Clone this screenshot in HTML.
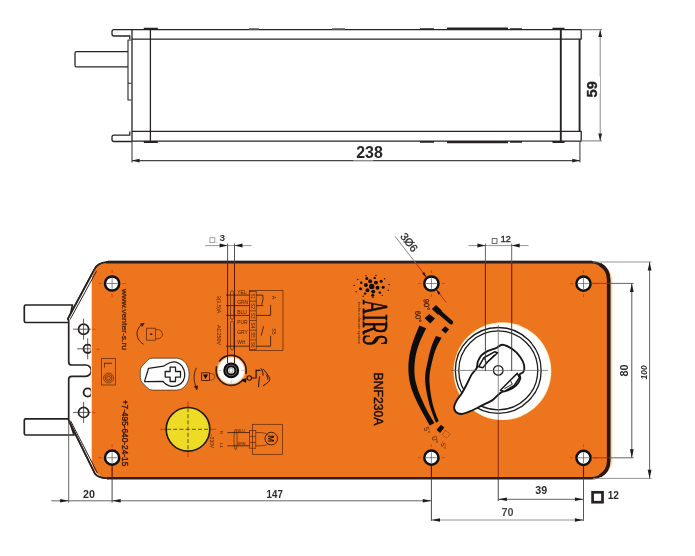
<!DOCTYPE html>
<html lang="en"><head><meta charset="utf-8"><title>BNF230A dimensions</title>
<style>
html,body{margin:0;padding:0;background:#fff;}
body{width:695px;height:556px;overflow:hidden;}
svg{display:block;}
text{font-family:"Liberation Sans",sans-serif;}
</style></head><body>
<svg width="695" height="556" viewBox="0 0 695 556">
<rect width="695" height="556" fill="#fff"/>
<g id="drawing" style="filter:blur(0.45px)">
<g id="topview" fill="none" stroke="#262322" stroke-width="1.3" stroke-linejoin="round">
<path d="M132 29.7H581.2V39.1H132"/>
<path d="M132 131.3H581.2V141.2H132"/>
<path d="M132 29.7V141.2"/>
<path d="M150.4 29.7V141.2"/>
<path d="M560.8 29.7V141.2" stroke-width="1.9"/>
<path d="M579.6 39.1V131.3" stroke-width="1.9"/>
<path d="M132 29.7H114q-2 0-2 2v2.3q0 2 2 2H129.8v3"/>
<path d="M132 141.5H114q-2 0-2-2v-2.4q0-2 2-2H129.8v-3.6"/>
<path d="M128 51.7H76.5q-1.5 0-1.5 1.5v12.2q0 1.500 1.5 1.5H128"/>
<path d="M131.4 40H128V100H131.4M128 83.3H131.4" stroke-width="1.1"/>
<path d="M143.8 28.8H157.8M143.8 142H157.8M552.5 28.8H564.5M552.5 142H564.5" stroke-width="2"/>
<path d="M420 29H434M510 29H522M420 141.9H434M510 141.9H522" stroke-width="1.6"/>
<path d="M249 29.1H259M332 29.1H345" stroke-width="1.7" stroke="#555"/>
<path d="M447 28.7H508M447 142.1H508" stroke-width="2.4"/>
</g>
<g id="topdims" fill="none" stroke="#444" stroke-width="1.1">
<path d="M132 141V162.6M579.9 141V162.6"/>
<path d="M132 160.6H579.9" stroke-width="1.2"/>
<path d="M581 29.7H602M581 140.9H602" stroke="#777" stroke-width="1"/>
<path d="M600.2 29.7V140.9" stroke="#8a8a8a" stroke-width="1"/>
</g>
<g fill="#222">
<path d="M132 160.6l7.6-1.9v3.8zM579.9 160.6l-7.6-1.9v3.8z"/>
<path d="M600.2 29.7l-1.9 7.4h3.8zM600.2 140.9l-1.9-7.4h3.8z"/>
</g>
<rect x="353.2" y="157.5" width="20" height="2.9" fill="#fff"/>
<text x="369.5" y="158.1" text-anchor="middle" font-size="15.9" font-weight="700" fill="#262626">238</text>
<rect x="597.6" y="76.5" width="2.4" height="17" fill="#fff"/>
<text transform="translate(597.3 89.3) rotate(-90)" text-anchor="middle" font-size="14.6" font-weight="700" fill="#222" stroke="#222" stroke-width="0.35">59</text>

<g id="plate" fill="#fff" stroke="#262322" stroke-width="1.7" stroke-linejoin="round">
<path d="M72.5 305H25.8q-1.5 0-1.5 1.5v14.5q0 1.5 1.5 1.5H68.7z"/>
<path d="M68.7 418.8H25.8q-1.5 0-1.5 1.5v13.2q0 1.5 1.5 1.5H74z"/>
<path d="M108 262.1C100 262.4 96.5 265 94.5 269.5L67.8 318.8L68.7 320.5V362.2Q68.7 365 71.8 365H85.6A5.6 5.6 0 0 1 85.6 376.3H71.8Q68.7 376.3 68.7 379.4V420.3L95 473.8C97.5 477.2 102 478.2 108 478.3Z"/>
</g>
<circle cx="83.6" cy="329.2" r="5.1" fill="#fff" stroke="#262322" stroke-width="1.7"/>
<path d="M73.1 329.2h21M83.6 318.7v21" stroke="#333" stroke-width="0.8" fill="none"/>
<circle cx="87.7" cy="348.8" r="4.2" fill="#fff" stroke="#262322" stroke-width="1.8"/>
<path d="M77.2 348.8h21M87.7 338.3v21" stroke="#333" stroke-width="0.8" fill="none"/>
<circle cx="87.7" cy="392.5" r="4.1" fill="#fff" stroke="#262322" stroke-width="1.9"/>
<circle cx="83.6" cy="412.4" r="5.1" fill="#fff" stroke="#262322" stroke-width="1.7"/>
<path d="M73.1 412.4h21M83.6 401.9v21" stroke="#333" stroke-width="0.8" fill="none"/>
<path d="M596 263.6A17.6 17.6 0 0 1 611 279.8V460.6A17.6 17.6 0 0 1 596 477" fill="none" stroke="#fbd09a" stroke-width="2.6"/>
<path id="body" d="M110 262.1H591.2A17.6 17.6 0 0 1 608.8 279.7V460.7A17.6 17.6 0 0 1 591.2 478.3H110C99 478 91.8 471 91.8 460V281C91.8 270 99 262.5 110 262.1Z" fill="#ED751D"/>
<path d="M91.4 283V458" stroke="#fbd9a6" stroke-width="1.1" fill="none"/>
<path d="M108 261H592" fill="none" stroke="#6a6664" stroke-width="1.2"/>
<path d="M106 262.3H591.2A17.6 17.6 0 0 1 608.8 279.7V460.7A17.6 17.6 0 0 1 591.2 478.3H107" fill="none" stroke="#2a201e" stroke-width="2.6"/>
<path d="M600 264.4A17.6 17.6 0 0 1 608.7 279.7V460.7A17.6 17.6 0 0 1 600 476" fill="none" stroke="#2a1714" stroke-width="3.6"/>
<path d="M96.5 349.2h3M92.5 329.3h3M92.5 412.6h3" stroke="#d8321c" stroke-width="0.9"/>
<path d="M107 262.1C99.5 262.4 96.3 265 94.3 269.5L67.8 318.8" fill="none" stroke="#2b2220" stroke-width="1.6" stroke-linecap="round"/>
<path d="M96.6 271L70 319.6" fill="none" stroke="#2b2220" stroke-width="1"/>
<path d="M68.7 420.3L95 473.8C97.5 477.2 102 478.2 108 478.3" fill="none" stroke="#2b2220" stroke-width="1.6" stroke-linecap="round"/>
<path d="M70.6 420.8L97.4 473" fill="none" stroke="#2b2220" stroke-width="1"/>

<g id="dial">
<circle cx="502.4" cy="371.2" r="48.9" fill="#fbe9b0"/>
<circle cx="502.4" cy="371.2" r="48.2" fill="#fff"/>
<circle cx="498.25" cy="370.4" r="42.9" fill="none" stroke="#1c1c1c" stroke-width="1.3"/>
<circle cx="498.25" cy="370.4" r="39.5" fill="none" stroke="#1c1c1c" stroke-width="1.3"/>
</g>
<path d="M502.4 344.69C505.11 344.86 509.33 347 512.3 349.05C515.27 351.09 518.24 354.23 520.22 356.96C522.2 359.7 523.65 363 524.18 365.48C524.7 367.95 524.14 370.32 523.38 371.81C522.63 373.29 520.15 373.23 519.62 374.38C519.1 375.54 520.78 376.92 520.22 378.74C519.66 380.55 518.24 383.36 516.26 385.27C514.28 387.18 510.91 389 508.34 390.22C505.77 391.44 503.46 390.94 500.82 392.59C498.18 394.24 495.54 398.04 492.51 400.11C489.47 402.19 486.24 403.25 482.61 405.06C478.98 406.88 474.2 409.52 470.73 411C467.27 412.49 464.3 413.81 461.83 413.97C459.35 414.14 457.17 413.15 455.89 411.99C454.6 410.84 453.94 409.02 454.11 407.04C454.27 405.06 455.59 402.42 456.88 400.11C458.16 397.81 460.18 395.83 461.83 393.19C463.47 390.55 465.12 387.41 466.77 384.28C468.42 381.15 470.07 377.09 471.72 374.38C473.37 371.68 475.65 370.19 476.67 368.05C477.69 365.9 477.03 363.66 477.86 361.52C478.68 359.37 480 356.93 481.62 355.18C483.24 353.43 485.15 352.21 487.56 351.03C489.97 349.84 493.59 349.11 496.07 348.06C498.54 347 499.7 344.53 502.4 344.69Z" fill="#fff" stroke="#161616" stroke-width="1.9" stroke-linejoin="round"/>
<path d="M478.65 366.86L483.8 357.76L494.49 351.82L497.65 352.81L488.15 361.32L483 367.65Z" fill="#fff" stroke="#161616" stroke-width="1.5" stroke-linejoin="round"/>
<path d="M500.42 390.22L510.32 380.32L517.25 373.39L519.43 377.55L514.28 385.27L504.38 391.41Z" fill="#fff" stroke="#161616" stroke-width="1.5" stroke-linejoin="round"/>
<path d="M483.8 357.76L486.57 362.51L494.49 354.59" fill="none" stroke="#161616" stroke-width="0.9"/>
<path d="M510.32 380.32L512.3 384.28L504.38 388.63" fill="none" stroke="#161616" stroke-width="0.9"/>
<circle cx="498.25" cy="370.4" r="4.8" fill="#fff" stroke="#161616" stroke-width="1.2"/>
<g fill="none" stroke-width="0.9">
<path d="M451 370.4H548" stroke="#666" stroke-width="0.75"/>
<path d="M485.4 263V323" stroke="#7a1a10" stroke-width="1.1"/><path d="M485.4 323V371" stroke="#333"/>
<path d="M511.7 263V323" stroke="#7a1a10" stroke-width="1.1"/><path d="M511.7 323V371" stroke="#333"/>
<path d="M498.25 325V420" stroke="#666" stroke-width="0.75"/>
<path d="M498.25 420V478" stroke="#7a1c10"/>
<path d="M498.25 478V501" stroke="#333"/>
</g>
<path d="M419.4 325.4C418.25 328.33 414.26 337.37 412.5 343C410.74 348.63 409.48 353.87 408.85 359.2C408.22 364.53 408.29 370.2 408.7 375C409.11 379.8 410.05 383.8 411.3 388C412.55 392.2 414.38 396.2 416.2 400.2C418.02 404.2 419.93 407.77 422.2 412C424.47 416.23 428.53 423.33 429.8 425.6L434.4 423.1C433.27 421.17 429.63 415.32 427.6 411.5C425.57 407.68 423.9 404.12 422.2 400.2C420.5 396.28 418.67 392.2 417.4 388C416.13 383.8 414.98 379.8 414.6 375C414.22 370.2 414.37 364.37 415.1 359.2C415.83 354.03 417.15 349.17 419 344C420.85 338.83 425 330.83 426.2 328.2Z" fill="#0d0d0d"/>
<path d="M435.9 336C435.13 337.83 432.58 343.13 431.3 347C430.02 350.87 429.22 354.53 428.2 359.2C427.18 363.87 425.58 370.2 425.2 375C424.82 379.8 425.38 383.8 425.9 388C426.42 392.2 427.37 396.37 428.3 400.2C429.23 404.03 430.22 407.25 431.5 411C432.78 414.75 435.25 420.75 436 422.7L438.7 421C438.02 419.25 435.73 413.97 434.6 410.5C433.47 407.03 432.67 403.95 431.9 400.2C431.13 396.45 430.38 392.2 430 388C429.62 383.8 429.15 379.8 429.6 375C430.05 370.2 431.58 363.7 432.7 359.2C433.82 354.7 434.82 351.57 436.3 348C437.78 344.43 440.72 339.5 441.6 337.8Z" fill="#0d0d0d"/>
<path d="M424.59 318.33L429.24 313.92L435.04 318.45L430.25 323.49Z" fill="#0d0d0d"/>
<path d="M432.25 308.94L436.03 305.52L441.6 310.83L438.09 314.42Z" fill="#0d0d0d" stroke="#0d0d0d" stroke-width="0.8" stroke-linejoin="round"/>
<path d="M439.62 312.27L451.04 322.25" stroke="#0d0d0d" stroke-width="4.3" stroke-linecap="round" fill="none"/>
<path d="M441.33 330.04L445.11 326.26L449.14 329.28L445.61 333.56Z" fill="#0d0d0d"/>
<path d="M436.55 429.77L440.95 424.73L444.35 427.62L440.07 432.91Z" fill="#0d0d0d"/>
<path d="M445.6 430.5l4.7 3.6-4 4-4-3.6z" fill="none" stroke="#4a1f08" stroke-width="0.8" stroke-dasharray="1 1.6"/>
<text transform="translate(423.9 304.7) rotate(85)" text-anchor="middle" font-size="7.6" font-weight="400" fill="#4a1f08" stroke="#4a1f08" stroke-width="0.25">90°</text>
<text transform="translate(415.4 316.8) rotate(85)" text-anchor="middle" font-size="7.6" font-weight="400" fill="#4a1f08" stroke="#4a1f08" stroke-width="0.25">60°</text>
<text transform="translate(424.6 431.2) rotate(72)" text-anchor="middle" font-size="7.4" font-weight="400" fill="#4a1f08" >5°</text>
<text transform="translate(432.4 440.6) rotate(75)" text-anchor="middle" font-size="7.6" font-weight="400" fill="#4a1f08" >0°</text>
<text transform="translate(441.2 445.4) rotate(80)" text-anchor="middle" font-size="6.4" font-weight="400" fill="#4a1f08" >-5°</text>
<g><path d="M98.6 283.5h3M122.6 283.5h3M112.1 270v3M112.1 294v3" stroke="#e03a1e" stroke-width="0.9" fill="none"/><circle cx="112.1" cy="283.5" r="7.1" fill="#fff" stroke="#111" stroke-width="2.5"/><path d="M106.7 283.5h10.8M112.1 278.1v10.8" stroke="#555" stroke-width="0.7" fill="none"/></g>
<g><path d="M417.9 283.5h3M441.9 283.5h3M431.4 270v3M431.4 294v3" stroke="#e03a1e" stroke-width="0.9" fill="none"/><circle cx="431.4" cy="283.5" r="7.1" fill="#fff" stroke="#111" stroke-width="2.5"/><path d="M426 283.5h10.8M431.4 278.1v10.8" stroke="#555" stroke-width="0.7" fill="none"/></g>
<g><path d="M570 283.6h3M594 283.6h3M583.5 270.1v3M583.5 294.1v3" stroke="#e03a1e" stroke-width="0.9" fill="none"/><circle cx="583.5" cy="283.6" r="7.1" fill="#fff" stroke="#111" stroke-width="2.5"/><path d="M578.1 283.6h10.8M583.5 278.2v10.8" stroke="#555" stroke-width="0.7" fill="none"/></g>
<g><path d="M98.6 457.7h3M122.6 457.7h3M112.1 444.2v3M112.1 468.2v3" stroke="#e03a1e" stroke-width="0.9" fill="none"/><circle cx="112.1" cy="457.7" r="7.1" fill="#fff" stroke="#111" stroke-width="2.5"/><path d="M106.7 457.7h10.8M112.1 452.3v10.8" stroke="#555" stroke-width="0.7" fill="none"/></g>
<g><path d="M417.9 457.7h3M441.9 457.7h3M431.4 444.2v3M431.4 468.2v3" stroke="#e03a1e" stroke-width="0.9" fill="none"/><circle cx="431.4" cy="457.7" r="7.1" fill="#fff" stroke="#111" stroke-width="2.5"/><path d="M426 457.7h10.8M431.4 452.3v10.8" stroke="#555" stroke-width="0.7" fill="none"/></g>
<g><path d="M570 457.8h3M594 457.8h3M583.5 444.3v3M583.5 468.3v3" stroke="#e03a1e" stroke-width="0.9" fill="none"/><circle cx="583.5" cy="457.8" r="7.1" fill="#fff" stroke="#111" stroke-width="2.5"/><path d="M578.1 457.8h10.8M583.5 452.4v10.8" stroke="#555" stroke-width="0.7" fill="none"/></g>
<g id="yellow">
<path d="M160 429.3H216M188 401.5V457" stroke="#d8321c" stroke-width="1" fill="none"/>
<circle cx="188" cy="429.3" r="21.8" fill="#EEDB25" stroke="#1e1c14" stroke-width="1.6"/>
<path d="M167 429.3H210M188 408V451" stroke="#5a5212" stroke-width="1" stroke-dasharray="4 2.2" fill="none"/>
</g>
<g id="window" stroke="#1c1c1c" stroke-linejoin="round">
<path d="M152.4 358.2H176.5C184.5 358.6 189.1 366 189.1 374.2C189.1 382.5 184.5 389.7 176.5 390.1H152.4Q149.6 390.1 147.6 388.2L142.2 382.4Q140.3 380.4 140.3 377.6V370.8Q140.3 368 142.2 366L147.6 360.2Q149.6 358.2 152.4 358.2Z" fill="#fff" stroke="#2a1a10" stroke-width="0.8" stroke-opacity="0.8"/>
<path d="M163.56 366.19C164.58 365.62 167.61 363.46 169.68 362.77C171.74 362.08 173.95 361.54 175.97 362.05C177.99 362.56 180.36 363.94 181.82 365.83C183.27 367.72 184.44 370.92 184.69 373.38C184.95 375.84 184.42 378.63 183.35 380.58C182.27 382.52 180.2 384.1 178.22 385.07C176.24 386.05 173.47 386.54 171.47 386.42C169.48 386.3 167.64 385.18 166.26 384.35C164.88 383.53 163.71 381.95 163.2 381.47L144.5 381.65L148.54 368.26Z" fill="#fff" stroke-width="1.25"/>
<path d="M170.1 367.2h5.4v4.3h5v5.6h-5v4.4h-5.4v-4.4h-4.9v-5.6h4.9z" fill="#fff" stroke-width="1.3"/>
</g>
<g id="knob">
<circle cx="231.2" cy="370.4" r="15.6" fill="#e27f30"/>
<circle cx="231.2" cy="370.4" r="14.3" fill="#f7c58c"/>
<circle cx="231.2" cy="370.4" r="13" fill="#fff"/>
<circle cx="231.2" cy="370.4" r="15" fill="none" stroke="#3b1a08" stroke-width="1.7" stroke-dasharray="42 5.4" stroke-dashoffset="-9"/>
<path d="M218.2 370.4h3M241.2 370.4h3M231.2 380.4v3" stroke="#b9a999" stroke-width="0.7" fill="none"/>
<circle cx="231.2" cy="370.4" r="6.9" fill="#6d6d6d" stroke="#0b0b0b" stroke-width="2.1"/>
<circle cx="231.2" cy="370.4" r="4.1" fill="#e8e8e8" stroke="#0b0b0b" stroke-width="1.8"/>
<rect x="229.6" y="368.79999999999995" width="3.2" height="3.2" fill="#fff" stroke="#888" stroke-width="0.5"/>
<path d="M241.6 380.79999999999995l5-3-0.6 5z" fill="#160a04"/>
</g>
<g id="dim3" fill="none" stroke-width="0.9">
<path d="M205 245.6H251.5" stroke="#8a8a8a"/>
<path d="M227.6 243.5V263M234.5 243.5V263" stroke="#444"/>
<path d="M227.6 263V363" stroke="#5a1408" stroke-width="1"/><path d="M234.5 263V363" stroke="#5a1408" stroke-width="1"/>
<rect x="209.9" y="237.7" width="4.9" height="4.9" stroke="#9a9a9a" stroke-width="0.9"/><circle cx="217" cy="242.4" r="0.5" fill="#999" stroke="none"/>
</g>
<path d="M227.6 245.6l-8-2v4zM234.5 245.6l8-2v4z" fill="#1c1c1c"/>
<text transform="translate(222.4 241.2) scale(1.08 1)" text-anchor="middle" font-size="9.3" font-weight="700" fill="#333">3</text>

<g id="dim12" fill="none" stroke-width="0.9">
<path d="M468.5 245.6H528.5" stroke="#8a8a8a"/>
<path d="M485.4 243.5V263M511.7 243.5V263" stroke="#555"/>
<rect x="492.2" y="238.6" width="4.8" height="4.8" stroke="#555" stroke-width="0.9"/>
</g>
<path d="M485.4 245.6l-8-2v4zM511.7 245.6l8-2v4z" fill="#1c1c1c"/>
<text transform="translate(505.8 242) scale(0.98 1)" text-anchor="middle" font-size="9.2" font-weight="400" stroke="#333" stroke-width="0.45" fill="#333">12</text>

<g id="leader">
<path d="M395 236.3L416 263.4" stroke="#7a7a7a" stroke-width="0.9" fill="none"/>
<path d="M416 263.4L426.4 277.2M436.2 289.4L446.3 302.6" stroke="#b32414" stroke-width="0.9" fill="none"/>
<path d="M426.6 277.4l-4.5-3.9 2-1.6zM436 289.2l4.5 3.9-2 1.6z" fill="#111"/>
</g>
<text transform="translate(406.1 244.7) rotate(52)" text-anchor="middle" font-size="11" font-weight="400" fill="#2a2a2a" stroke="#2a2a2a" stroke-width="0.3">3Ø6</text>
<g id="dimright" fill="none" stroke-width="0.9">
<path d="M591 283.4H608.5M591 457.8H608.5" stroke="#b32414"/>
<path d="M609 283.4H633.6M609 457.8H633.6" stroke="#555"/>
<path d="M631.8 283.4V457.8" stroke="#444"/>
<path d="M593 262H651.6M593 478.4H651.6" stroke="#8a8a8a"/>
<path d="M649.6 262V478.4" stroke="#555"/>
</g>
<path d="M631.8 283.4l-1.9 8.6h3.8zM631.8 457.8l-1.9-8.6h3.8zM649.6 262l-1.9 8.6h3.8zM649.6 478.4l-1.9-8.6h3.8z" fill="#1c1c1c"/>

<text transform="translate(627.6 370.6) rotate(-90) scale(1.05 1)" text-anchor="middle" font-size="10.3" font-weight="700" fill="#2a2a2a">80</text>
<text transform="translate(647.4 372.4) rotate(-90)" text-anchor="middle" font-size="8.4" font-weight="700" fill="#2a2a2a" font-style="italic">100</text>
<g id="dimbottom" fill="none" stroke-width="0.9">
<path d="M68.7 421V502.6" stroke="#555"/>
<path d="M112.1 465.5V478" stroke="#5a1408" stroke-width="1.1"/><path d="M112.1 478V502.6" stroke="#333"/>
<path d="M431.4 465.5V478" stroke="#5a1408" stroke-width="1.1"/><path d="M431.4 478V521" stroke="#333"/>
<path d="M583.5 465.5V478" stroke="#5a1408" stroke-width="1.1"/><path d="M583.5 478V521" stroke="#444"/>
<path d="M51.3 500.8H431.4" stroke="#555"/>
<path d="M498.3 499.3H583.5" stroke="#555"/>
<path d="M431.4 520H583.5" stroke="#888"/>
</g>
<path d="M68.7 500.8l-8.6-1.8v3.6zM112.1 500.8l8.6-1.8v3.6zM431.4 500.8l-8.6-1.8v3.6zM498.3 499.3l8.6-1.8v3.6zM583.5 499.3l-8.6-1.8v3.6zM431.4 520l8.6-1.8v3.6zM583.5 520l-8.6-1.8v3.6z" fill="#1c1c1c"/>
<text transform="translate(89 498.3) scale(1.06 1)" text-anchor="middle" font-size="10.1" font-weight="700" fill="#2a2a2a">20</text>
<text transform="translate(274.7 498.3) scale(0.96 1)" text-anchor="middle" font-size="10.1" font-weight="700" fill="#2a2a2a">147</text>
<text transform="translate(541.2 493.9) scale(1.06 1)" text-anchor="middle" font-size="10.1" font-weight="700" fill="#2a2a2a">39</text>
<text transform="translate(507.4 516) scale(1.05 1)" text-anchor="middle" font-size="10.3" font-weight="700" fill="#4a4a4a">70</text>
<rect x="592.6" y="492.3" width="9.9" height="9.9" fill="#fff" stroke="#262222" stroke-width="2.7"/>
<text transform="translate(613.3 499.2) scale(1.0 1)" text-anchor="middle" font-size="10.1" font-weight="700" fill="#2a2a2a">12</text>

<text transform="translate(373.8 399) rotate(90)" text-anchor="middle" font-size="13.4" font-weight="400" fill="#1a0d05" stroke="#1a0d05" stroke-width="0.45" textLength="53" lengthAdjust="spacingAndGlyphs">BNF230A</text>
<text transform="translate(121.6 319.5) rotate(90)" text-anchor="middle" font-size="7.6" font-weight="400" fill="#4a1f08" stroke="#4a1f08" stroke-width="0.3" textLength="61" lengthAdjust="spacingAndGlyphs">www.venter-s.ru</text>
<text transform="translate(122 433) rotate(90)" text-anchor="middle" font-size="8.6" font-weight="400" fill="#2a1206" stroke="#2a1206" stroke-width="0.3" textLength="66.5" lengthAdjust="spacingAndGlyphs">+7-495-640-24-15</text>
<text transform="translate(362.7 322.7) rotate(90) scale(0.56 1)" text-anchor="middle" font-size="36" fill="#120a05" stroke="#120a05" stroke-width="0.7" style="font-family:'Liberation Serif',serif">AIRS</text>
<text transform="translate(357.6 323) rotate(90)" text-anchor="middle" font-size="3.4" font-weight="400" fill="#4a1f08" textLength="42" lengthAdjust="spacingAndGlyphs">techno climate system</text>
<g fill="#120a05"><circle cx="371.7" cy="286.4" r="2.7"/><circle cx="377.5" cy="287.8" r="1.95"/><circle cx="373.25" cy="291.62" r="1.95"/><circle cx="367.46" cy="290.22" r="1.95"/><circle cx="365.9" cy="285" r="1.95"/><circle cx="370.15" cy="281.18" r="1.95"/><circle cx="375.94" cy="282.58" r="1.95"/><circle cx="383.21" cy="287.17" r="1.5"/><circle cx="379.87" cy="292.62" r="1.2"/><circle cx="372.71" cy="295.17" r="1.5"/><circle cx="365.08" cy="293.61" r="1.2"/><circle cx="360.54" cy="288.68" r="1.5"/><circle cx="361.23" cy="282.68" r="1.2"/><circle cx="366.82" cy="278.42" r="1.5"/><circle cx="374.69" cy="277.9" r="1.2"/><circle cx="381.16" cy="281.35" r="1.5"/><circle cx="388.24" cy="290.23" r="0.7"/><circle cx="382.29" cy="295.34" r="0.7"/><circle cx="372.93" cy="297.57" r="0.7"/><circle cx="363.17" cy="296.2" r="0.7"/><circle cx="356.16" cy="291.66" r="0.7"/><circle cx="354.17" cy="285.42" r="0.7"/><circle cx="357.83" cy="279.5" r="0.7"/><circle cx="365.97" cy="275.81" r="0.7"/><circle cx="375.96" cy="275.53" r="0.7"/><circle cx="384.57" cy="278.76" r="0.7"/><circle cx="389.03" cy="284.46" r="0.7"/></g>
<g id="lock" fill="none" stroke="#4a1f08" stroke-width="0.8" opacity="0.85">
<rect x="146.6" y="328.2" width="8.8" height="12"/>
<path d="M155.4 329.6h2.4a4.6 4.6 0 0 1 0 9.2h-2.4"/>
<path d="M150 334.2h2.4" stroke-width="1.4" stroke="#1c0c04"/>
<path d="M143.5 344.2C136 340 134.5 330.5 141.5 324.6" stroke-width="1" stroke="#2a1206"/>
<path d="M144.2 323.4l-3.6 0.4 1.6 2.6z" fill="#2a1206" stroke="#2a1206"/>
</g>
<g id="lbox" fill="none" stroke="#4a1f08" stroke-width="0.8" opacity="0.8">
<rect x="101.6" y="358.4" width="14" height="26.6"/>
<circle cx="108.6" cy="378" r="5"/><circle cx="108.6" cy="378" r="3.4"/><circle cx="108.6" cy="378" r="1.8"/>
</g>
<text transform="translate(103.8 361.9) rotate(90)" text-anchor="start" font-size="10.4" font-weight="400" fill="#4a1f08" opacity="0.85">L</text>
<g id="icons" fill="none" stroke="#2a1206" stroke-width="0.8">
<path d="M196.4 367.8C193.4 374 193.4 381 196.2 387.5"/>
<path d="M196.9 389.6l-2.4-3 3-0.7z" fill="#2a1206"/>
<rect x="201.6" y="372.8" width="7.8" height="7.8"/>
<path d="M203 374.4h5l-2.5 4.6z" fill="#1a0a04" stroke="none"/>
<path d="M209.4 373.6h2.2a3.2 3.2 0 0 1 0 6.4h-2.2" opacity="0.6"/>
<circle cx="249.3" cy="378" r="2.2" stroke-width="1.1"/>
<path d="M251.5 378h4.6v-7.6h4.4" stroke-width="1.2"/>
<path d="M260.8 368.2c1.6 2 2.4 4.6 2.2 7.4M263 369c3.2 3.4 5.6 6.6 6.8 9.6c0.4 1.6-1.2 3.4-3 4.6l-3.8 2.8M259.6 376.4c-0.6 3.4-1 6.8-1 10.8M266.2 374.6c1.2 1.6 1.8 3.4 1.4 5" stroke-width="1"/>
</g>
<g id="wiring" fill="none" stroke="#4a1f08" stroke-width="0.7" opacity="0.9">
<rect x="249.4" y="290.4" width="33.6" height="60.1"/>
<rect x="249.4" y="291.4" width="6.8" height="58.2"/>
<path d="M249.4 301.1h6.8"/>
<path d="M249.4 310.8h6.8"/>
<path d="M249.4 320.5h6.8"/>
<path d="M249.4 330.2h6.8"/>
<path d="M249.4 339.9h6.8"/>
<rect x="230.5" y="290.8" width="3.3" height="28.6" rx="1.6"/>
<rect x="230.5" y="321.2" width="3.3" height="28.6" rx="1.6"/>
<path d="M226 295.1H249.4M226 305.6H249.4M226 315.4H249.4M226 346.2H249.4" stroke="#1c0c04" stroke-width="0.8"/>
<path d="M256.2 295.1h6.6q1 4.6-1.2 9.6M256.2 305.6h7.2M256.2 315.4h14.4v-10.6M256.2 346.2h14.4v-10.4M263.6 326.2l-2.4 9.4" stroke="#1c0c04" stroke-width="0.8"/>
</g>
<text x="237.2" y="294.4" font-size="4.9" fill="#4a1f08">YEL</text>
<text x="237.2" y="304.1" font-size="4.9" fill="#4a1f08">GRN</text>
<text x="237.2" y="313.8" font-size="4.9" fill="#4a1f08">BLU</text>
<text x="237.2" y="324.2" font-size="4.9" fill="#4a1f08">PUR</text>
<text x="237.2" y="334.2" font-size="4.9" fill="#4a1f08">GRY</text>
<text x="237.2" y="344.1" font-size="4.9" fill="#4a1f08">WH</text>
<text transform="translate(251.2 296.3) rotate(90)" text-anchor="middle" font-size="4.6" font-weight="400" fill="#4a1f08" >S1</text>
<text transform="translate(251.2 306) rotate(90)" text-anchor="middle" font-size="4.6" font-weight="400" fill="#4a1f08" >S2</text>
<text transform="translate(251.2 315.7) rotate(90)" text-anchor="middle" font-size="4.6" font-weight="400" fill="#4a1f08" >S3</text>
<text transform="translate(251.2 325.4) rotate(90)" text-anchor="middle" font-size="4.6" font-weight="400" fill="#4a1f08" >S4</text>
<text transform="translate(251.2 335.1) rotate(90)" text-anchor="middle" font-size="4.6" font-weight="400" fill="#4a1f08" >S5</text>
<text transform="translate(251.2 344.8) rotate(90)" text-anchor="middle" font-size="4.6" font-weight="400" fill="#4a1f08" >S6</text>
<text transform="translate(271.8 297.4) rotate(90)" text-anchor="middle" font-size="5.2" font-weight="400" fill="#4a1f08" >A</text>
<text transform="translate(271.8 331.5) rotate(90)" text-anchor="middle" font-size="5.2" font-weight="400" fill="#4a1f08" >S5</text>
<text transform="translate(217.2 304.5) rotate(90)" text-anchor="middle" font-size="5.4" font-weight="400" fill="#4a1f08" >3(1.5)A</text>
<text transform="translate(217.2 335) rotate(90)" text-anchor="middle" font-size="5.4" font-weight="400" fill="#4a1f08" >AC250V</text>
<g id="motor" fill="none" stroke="#4a1f08" stroke-width="0.7" opacity="0.9">
<rect x="252.6" y="424.3" width="30" height="30"/>
<rect x="249.6" y="430.6" width="6.2" height="17.6"/>
<path d="M249.6 436.4h6.2M249.6 442.4h6.2"/>
<ellipse cx="235.6" cy="439.4" rx="1.6" ry="10.4"/>
<path d="M227.5 432.6H249.6M227.5 445.8H249.6" stroke="#1c0c04" stroke-width="0.8"/>
<circle cx="271.3" cy="438.6" r="6.3" stroke="#1c0c04" stroke-width="0.9"/>
<path d="M255.8 432.6h5.4q5 0 7 2.6M255.8 445.8h5.4q5 0 7-2"/>
</g>
<text transform="translate(268.3 438.6) rotate(90)" text-anchor="middle" font-size="8.2" font-weight="700" fill="#1c0c04" >M</text>
<text x="237.6" y="431.8" font-size="3.8" fill="#4a1f08">BLU</text>
<text x="237.6" y="445" font-size="3.8" fill="#4a1f08">BRN</text>
<text transform="translate(220 432.6) rotate(90)" text-anchor="middle" font-size="4.4" font-weight="400" fill="#4a1f08" >N</text>
<text transform="translate(220 445.6) rotate(90)" text-anchor="middle" font-size="4.4" font-weight="400" fill="#4a1f08" >L1</text>
<text transform="translate(209.8 441) rotate(90)" text-anchor="middle" font-size="4.8" font-weight="400" fill="#4a1f08" >~230V</text>
</g>
</svg>
</body></html>
